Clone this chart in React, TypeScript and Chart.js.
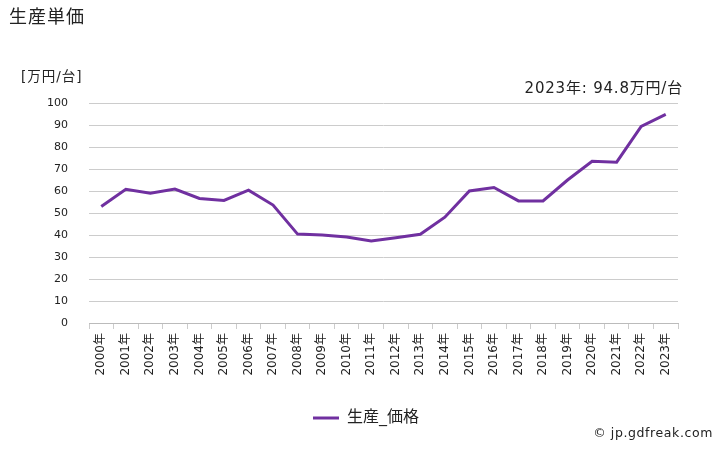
import React, { useEffect, useRef } from "react";
import { Chart, registerables } from "chart.js";

Chart.register(...registerables);

const years: string[] = [
  "2000年", "2001年", "2002年", "2003年", "2004年", "2005年", "2006年", "2007年",
  "2008年", "2009年", "2010年", "2011年", "2012年", "2013年", "2014年", "2015年",
  "2016年", "2017年", "2018年", "2019年", "2020年", "2021年", "2022年", "2023年",
];
const priceValues: number[] = [
  53.0, 60.8, 59.0, 60.9, 56.6, 55.7, 60.4, 53.6,
  40.4, 40.0, 39.1, 37.3, 38.7, 40.3, 48.1, 60.0,
  61.6, 55.5, 55.5, 65.0, 73.5, 73.1, 89.4, 94.8,
];
const seriesName = "生産_価格";
const titleText = "生産単価";
const unitText = "[万円/台]";
const noteText = "2023年: 94.8万円/台";
const creditText = "© jp.gdfreak.com";

const FONT = "'DejaVu Sans', 'Noto Sans CJK JP', sans-serif";

const textPlugin = {
  id: "textPlugin",
  afterLayout(chart: any) {
    const lg = chart.legend;
    if (lg) {
      lg.left += 27;
      lg.right += 27;
    }
  },
  afterDraw(chart: any) {
    const ctx = chart.ctx;
    ctx.save();
    ctx.fillStyle = "#222";
    ctx.textBaseline = "middle";
    ctx.letterSpacing = "1px";
    ctx.font = `18px ${FONT}`;
    ctx.textAlign = "left";
    ctx.fillText(titleText, 9, 18);
    ctx.font = `13.5px ${FONT}`;
    ctx.fillText(unitText, 21, 77);
    ctx.letterSpacing = "0.8px";
    ctx.font = `15px ${FONT}`;
    ctx.textAlign = "right";
    ctx.fillText(noteText, 683, 89);
    ctx.letterSpacing = "0.6px";
    ctx.font = `12.5px ${FONT}`;
    ctx.fillText(creditText, 713, 434);
    ctx.restore();
  },
};

export default function App() {
  const ref = useRef<HTMLCanvasElement | null>(null);
  useEffect(() => {
    if (!ref.current) return;
    const ctx2d = ref.current.getContext("2d") as any;
    if (ctx2d) ctx2d.letterSpacing = "1px";
    const chart = new Chart(ctx2d, {
      type: "line",
      data: {
        labels: years,
        datasets: [
          {
            label: seriesName,
            data: priceValues,
            borderColor: "#7030A0",
            backgroundColor: "#7030A0",
            borderWidth: 3,
            pointRadius: 0,
            tension: 0,
          },
        ],
      },
      options: {
        animation: false,
        responsive: false,
        maintainAspectRatio: false,
        layout: { padding: { left: 0, right: 50, top: 103, bottom: 14 } },
        plugins: {
          tooltip: { enabled: false },
          title: { display: false },
          legend: {
            position: "bottom",
            labels: {
              usePointStyle: true,
              pointStyle: "line",
              pointStyleWidth: 26,
              boxHeight: 3,
              color: "#222",
              padding: 10,
              font: { family: FONT, size: 16 },
            },
          },
        },
        scales: {
          x: {
            offset: true,
            afterFit(scale: any) {
              scale.height = 77;
            },
            grid: {
              display: true,
              drawOnChartArea: false,
              drawTicks: true,
              tickLength: 6,
              color: "#cccccc",
              offset: true,
            },
            border: { display: true, color: "#bbbbbb", dash: [2, 1] },
            ticks: {
              autoSkip: false,
              minRotation: 90,
              maxRotation: 90,
              padding: 4,
              color: "#222",
              font: { family: FONT, size: 12 },
            },
          },
          y: {
            min: 0,
            max: 100,
            afterFit(scale: any) {
              scale.width = 89;
            },
            grid: { color: "#cccccc", drawTicks: false, lineWidth: 1 },
            border: { display: false },
            ticks: {
              stepSize: 10,
              padding: 21,
              color: "#222",
              font: { family: FONT, size: 11 },
            },
          },
        },
      },
      plugins: [textPlugin],
    });
    return () => chart.destroy();
  }, []);
  return (
    <div style={{ position: "fixed", left: 0, top: 0, width: 728, height: 450, background: "#fff" }}>
      <canvas ref={ref} width={728} height={450} style={{ width: 728, height: 450 }} />
    </div>
  );
}
